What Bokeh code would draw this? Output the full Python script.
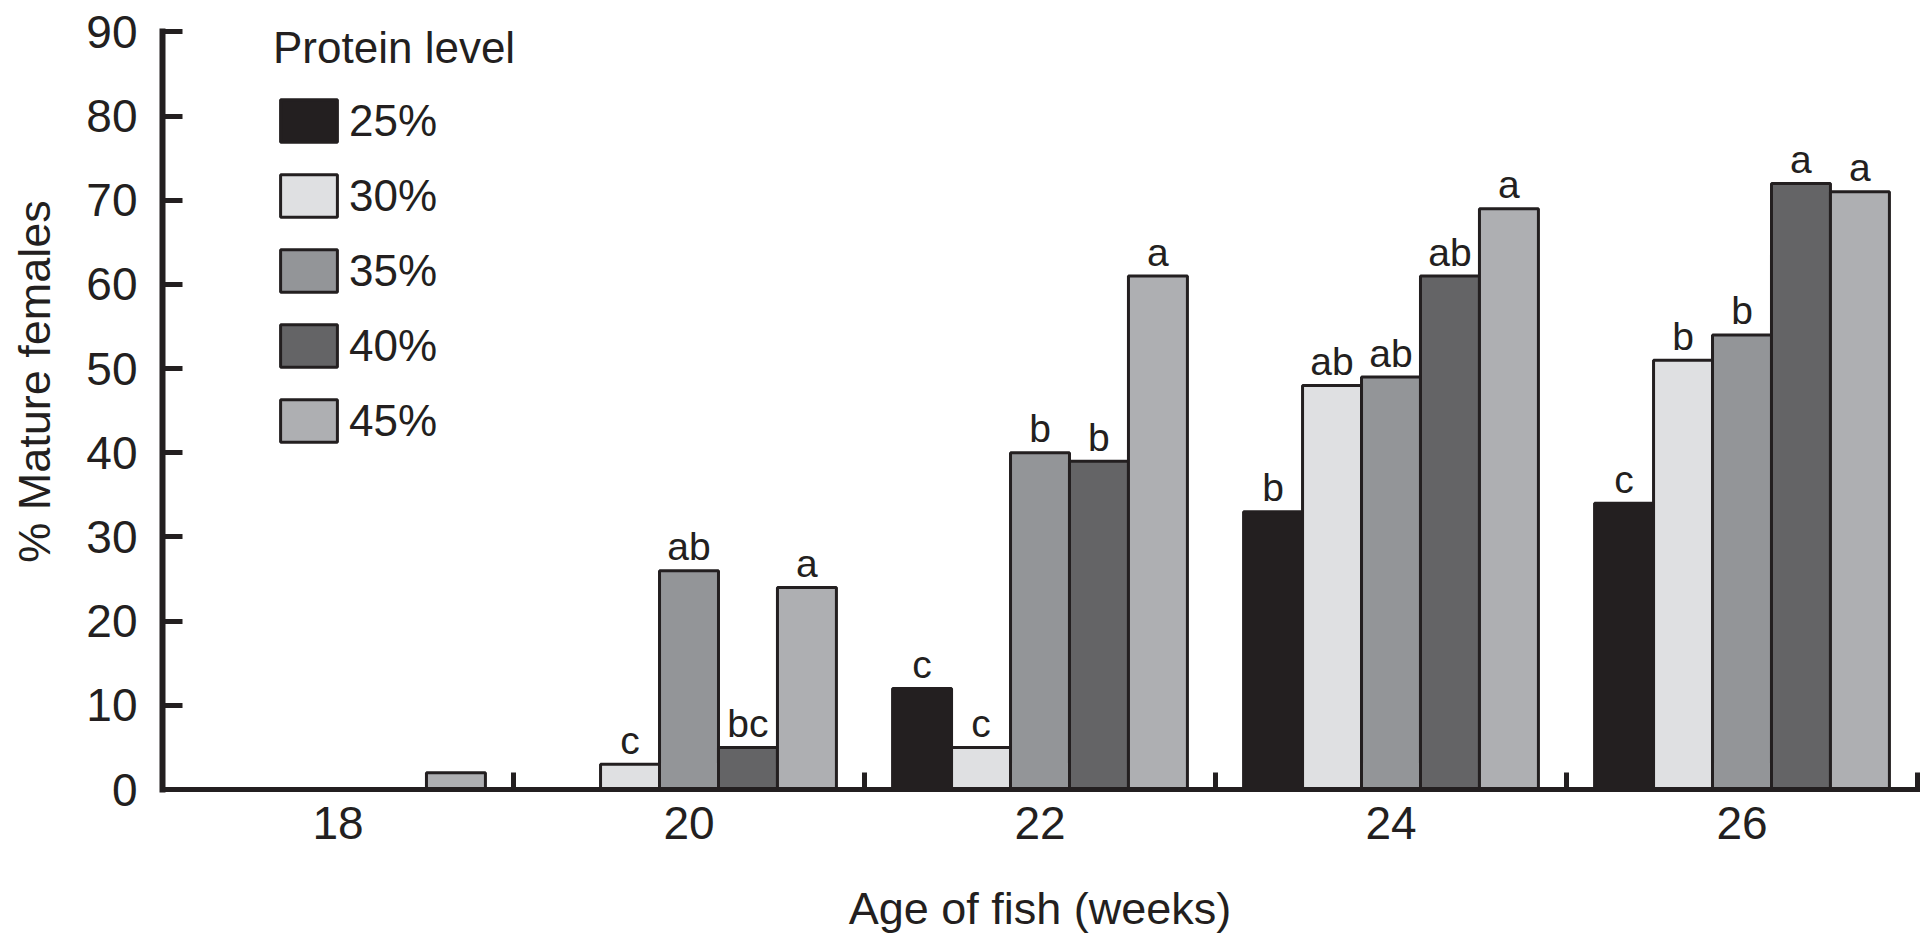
import numpy as np
from bokeh.plotting import figure
from bokeh.models import Range1d, FixedTicker, Legend, LegendItem, ColumnDataSource
from bokeh.core.properties import value
from bokeh.embed import file_html
from bokeh.resources import INLINE

# ---- data ----
ages = ["18", "20", "22", "24", "26"]
levels = ["25%", "30%", "35%", "40%", "45%"]
v25 = [0, 0, 12, 33, 34]
v30 = [0, 3, 5, 48, 51]
v35 = [0, 26, 40, 49, 54]
v40 = [0, 5, 39, 61, 72]
v45 = [2, 24, 61, 69, 71]
l25 = ["", "", "c", "b", "c"]
l30 = ["", "c", "c", "ab", "b"]
l35 = ["", "ab", "b", "ab", "b"]
l40 = ["", "bc", "b", "ab", "a"]
l45 = ["", "a", "a", "a", "a"]
y_ticks = [0, 10, 20, 30, 40, 50, 60, 70, 80, 90]

series_vals = [v25, v30, v35, v40, v45]
series_lets = [l25, l30, l35, l40, l45]
colors = ["#231f20", "#dfe0e2", "#939598", "#646466", "#aeafb2"]

INK = "#231f20"
FONT = "Liberation Sans"
BAR_W = 0.168

p = figure(width=1921, height=936,
           x_range=Range1d(-0.5, 4.5), y_range=Range1d(0, 91),
           output_backend="svg", toolbar_location=None,
           min_border_left=162, min_border_right=4,
           min_border_top=23, min_border_bottom=145)
p.xgrid.visible = False
p.ygrid.visible = False
p.outline_line_color = None
p.background_fill_color = "white"
p.border_fill_color = "white"

group_idx = np.arange(len(ages))
renderers = []
for k, (vals, lets, col) in enumerate(zip(series_vals, series_lets, colors)):
    xs = group_idx + (k - 2) * BAR_W
    src = ColumnDataSource(dict(x=xs, top=vals, lab=lets))
    r = p.vbar(x="x", top="top", bottom=0, width=BAR_W, source=src,
               fill_color=col, line_color=INK, line_width=3)
    renderers.append(r)
    p.text(x="x", y="top", text="lab", source=src, y_offset=-24,
           text_align="center", text_baseline="alphabetic",
           text_font=value(FONT), text_font_size=value("39px"),
           text_color=INK)

legend = Legend(items=[LegendItem(label=lv, renderers=[r]) for lv, r in zip(levels, renderers)],
                title="Protein level", location=(111, 342),
                glyph_width=71, glyph_height=53, label_standoff=5,
                spacing=22, padding=0, margin=0,
                border_line_color=None, background_fill_alpha=0,
                title_standoff=21,
                label_text_font=FONT, label_text_font_size="44px", label_text_color=INK,
                title_text_font=FONT, title_text_font_size="44px",
                title_text_font_style="normal", title_text_color=INK)
p.add_layout(legend)

# axes
for ax in (p.xaxis[0], p.yaxis[0]):
    ax.axis_line_color = INK
    ax.axis_line_cap = "square"
    ax.major_label_text_font = FONT
    ax.major_label_text_font_size = "46px"
    ax.major_label_text_color = INK
    ax.axis_label_text_font = FONT
    ax.axis_label_text_font_size = "45px"
    ax.axis_label_text_font_style = "normal"
    ax.axis_label_text_color = INK

xa = p.xaxis[0]
xa.axis_line_width = 5
xa.ticker = FixedTicker(ticks=list(group_idx), minor_ticks=[i + 0.5 for i in group_idx])
xa.major_label_overrides = {int(i): a for i, a in zip(group_idx, ages)}
xa.major_tick_in = 0
xa.major_tick_out = 0
xa.minor_tick_in = 17
xa.minor_tick_out = 0
xa.minor_tick_line_width = 5
xa.minor_tick_line_color = INK
xa.major_label_standoff = 17
xa.axis_label = "Age of fish (weeks)"
xa.axis_label_standoff = 41

ya = p.yaxis[0]
ya.bounds = (0, 90)
ya.axis_line_width = 6
ya.ticker = FixedTicker(ticks=y_ticks)
ya.major_tick_in = 20
ya.major_tick_out = 0
ya.major_tick_line_width = 5
ya.major_tick_line_color = INK
ya.minor_tick_line_color = None
ya.major_label_standoff = 25
# non-breaking spaces nudge the centred title upward, as in the reference
ya.axis_label = "\u00a0\u00a0\u00a0\u00a0% Mature females"
ya.axis_label_standoff = 23

open("out.html", "w").write(file_html(p, INLINE))
